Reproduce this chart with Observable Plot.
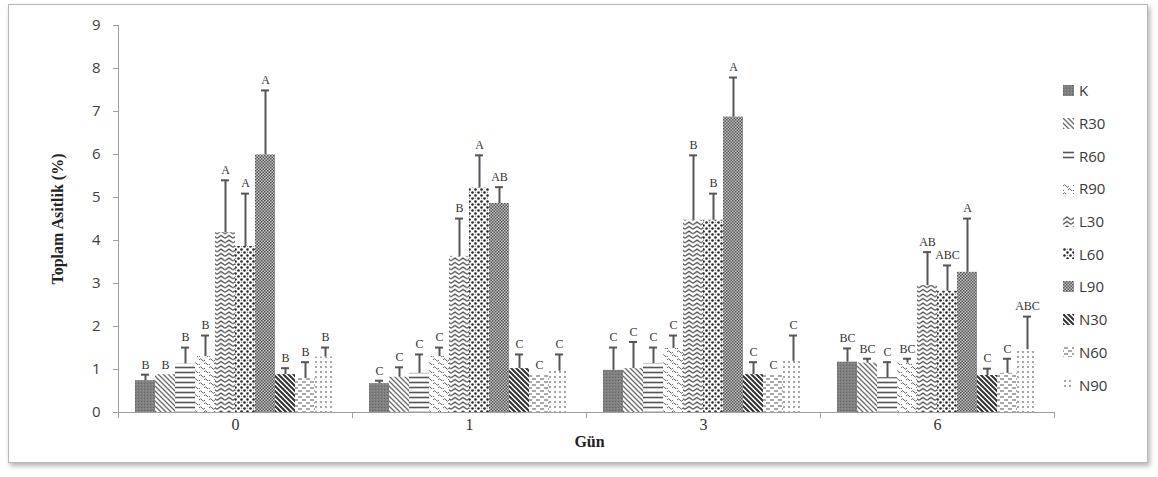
<!DOCTYPE html>
<html><head><meta charset="utf-8">
<script src="https://cdn.jsdelivr.net/npm/d3@7"></script>
<script src="https://cdn.jsdelivr.net/npm/@observablehq/plot@0.6"></script>
<style>
html,body{margin:0;padding:0;background:#fff;}
#frame{position:absolute;left:8px;top:4px;width:1138px;height:457px;border:1px solid #b8b8b8;box-shadow:2px 3px 5px rgba(0,0,0,0.3);background:#fff;overflow:hidden;}
#chart{position:absolute;left:0;top:0;}
#legend{position:absolute;left:1054px;top:69px;font-family:"Open Sans",sans-serif;font-size:15px;color:#3a3a3a;}
.item{display:flex;align-items:center;height:32.7px;}
.item svg{margin-right:5px;display:block;}
</style></head><body>
<div id="frame"><div id="chart"></div><div id="legend"></div></div>
<script>
const days = ["0", "1", "3", "6"];
const series = ["K", "R30", "R60", "R90", "L30", "L60", "L90", "N30", "N60", "N90"];
const yTicks = [0, 1, 2, 3, 4, 5, 6, 7, 8, 9];

const mean0 = [0.74, 0.88, 1.13, 1.30, 4.18, 3.86, 5.99, 0.88, 0.79, 1.29];
const mean1 = [0.67, 0.82, 0.91, 1.30, 3.63, 5.22, 4.86, 1.02, 0.86, 0.96];
const mean3 = [0.98, 1.02, 1.14, 1.49, 4.47, 4.47, 6.87, 0.88, 0.88, 1.19];
const mean6 = [1.17, 1.15, 0.81, 1.15, 2.95, 2.82, 3.26, 0.86, 0.91, 1.46];

const sd0 = [0.14, 0.00, 0.38, 0.49, 1.22, 1.23, 1.50, 0.15, 0.38, 0.22];
const sd1 = [0.07, 0.23, 0.44, 0.21, 0.88, 0.76, 0.38, 0.33, 0.00, 0.39];
const sd3 = [0.53, 0.62, 0.37, 0.30, 1.51, 0.62, 0.92, 0.29, 0.00, 0.60];
const sd6 = [0.32, 0.10, 0.36, 0.10, 0.78, 0.60, 1.25, 0.16, 0.34, 0.77];

const letters0 = ["B", "B", "B", "B", "A", "A", "A", "B", "B", "B"];
const letters1 = ["C", "C", "C", "C", "B", "A", "AB", "C", "C", "C"];
const letters3 = ["C", "C", "C", "C", "B", "B", "A", "C", "C", "C"];
const letters6 = ["BC", "BC", "C", "BC", "AB", "ABC", "A", "C", "C", "ABC"];

const means = [mean0, mean1, mean3, mean6];
const sds = [sd0, sd1, sd3, sd6];
const letters = [letters0, letters1, letters3, letters6];

const data = days.flatMap((day, i) => series.map((s, j) => ({
  day, s, mean: means[i][j], sd: sds[i][j], letter: letters[i][j]
})));
const errData = data.filter(d => d.sd > 0.02);

const patterns = `
<pattern id="pat0" patternUnits="userSpaceOnUse" width="3" height="3">
  <rect width="3" height="3" fill="#808080"/><rect width="1" height="1" fill="#666"/><rect x="2" y="1" width="1" height="1" fill="#939393"/>
</pattern>
<pattern id="pat1" patternUnits="userSpaceOnUse" width="5" height="5">
  <rect width="5" height="5" fill="#fff"/>
  <path d="M0,0L5,5M-1,4L1,6M4,-1L6,1" stroke="#6a6a6a" stroke-width="1.3"/>
</pattern>
<pattern id="pat2" patternUnits="userSpaceOnUse" width="4" height="5">
  <rect width="4" height="5" fill="#fff"/>
  <path d="M0,2.5H4" stroke="#555" stroke-width="1.6"/>
</pattern>
<pattern id="pat3" patternUnits="userSpaceOnUse" width="10" height="8">
  <rect width="10" height="8" fill="#fff"/>
  <path d="M0,3q1.5,-2.5 3,0t3,0M5,7q1.5,-2.5 3,0t3,0M-5,7q1.5,-2.5 3,0t3,0" fill="none" stroke="#666" stroke-width="1"/>
</pattern>
<pattern id="pat4" patternUnits="userSpaceOnUse" width="8" height="4.5">
  <rect width="8" height="4.5" fill="#fff"/>
  <path d="M0,3.8L4,1L8,3.8" fill="none" stroke="#444" stroke-width="1.2"/>
</pattern>
<pattern id="pat5" patternUnits="userSpaceOnUse" width="6" height="6">
  <rect width="6" height="6" fill="#fff"/>
  <circle cx="1.5" cy="1.5" r="1.3" fill="#262626"/><circle cx="4.5" cy="4.5" r="1.3" fill="#262626"/>
  <circle cx="4.5" cy="1.2" r="0.6" fill="#777"/>
</pattern>
<pattern id="pat6" patternUnits="userSpaceOnUse" width="3" height="3">
  <rect width="3" height="3" fill="#c4c4c4"/>
  <rect width="1.5" height="1.5" fill="#555"/><rect x="1.5" y="1.5" width="1.5" height="1.5" fill="#555"/>
</pattern>
<pattern id="pat7" patternUnits="userSpaceOnUse" width="5" height="5">
  <rect width="5" height="5" fill="#fff"/>
  <path d="M0,0L5,5M-1,4L1,6M4,-1L6,1" stroke="#303030" stroke-width="2"/>
</pattern>
<pattern id="pat8" patternUnits="userSpaceOnUse" width="8" height="6">
  <rect width="8" height="6" fill="#fff"/>
  <path d="M1,2H5M5,5H8M0,5H1" stroke="#555" stroke-width="1.2"/>
</pattern>
<pattern id="pat9" patternUnits="userSpaceOnUse" width="5" height="5">
  <rect width="5" height="5" fill="#fff"/>
  <circle cx="2" cy="2" r="0.9" fill="#7a7a7a"/>
</pattern>`;

const chart = Plot.plot({
  width: 1050,
  height: 452,
  marginLeft: 109,
  marginRight: 5,
  marginTop: 20,
  marginBottom: 45,
  style: {background: "transparent", overflow: "visible"},
  fx: {domain: days, padding: 0, axis: null},
  x: {domain: series, paddingInner: 0, paddingOuter: 0.8, axis: null},
  y: {domain: [0, 9], axis: null},
  color: {type: "ordinal", domain: series, range: series.map((_, i) => `url(#pat${i})`)},
  marks: [
    Plot.barY(data, {fx: "day", x: "s", y: "mean", fill: "s"}),
    Plot.ruleY([0], {stroke: "#a0a0a0"}),
    Plot.ruleX(errData, {fx: "day", x: "s", y1: "mean", y2: d => d.mean + d.sd, stroke: "#555", strokeWidth: 2}),
    Plot.tickY(errData, {fx: "day", x: "s", y: d => d.mean + d.sd, stroke: "#555", strokeWidth: 2, inset: 6}),
    Plot.text(data, {fx: "day", x: "s", y: d => d.mean + d.sd, text: "letter", dy: -10,
      fontFamily: "Liberation Serif", fontSize: 12, fill: "#333"}),
    Plot.axisY({ticks: yTicks, tickSize: 5, tickPadding: 13, label: null, fontSize: 15,
      fontFamily: "Open Sans", stroke: "#a0a0a0", fill: "#404040"}),
    Plot.axisFx({anchor: "bottom", tickSize: 0, tickPadding: 6, label: null, fontSize: 16,
      fontFamily: "Liberation Serif", fill: "#333"}),
    Plot.text(["Toplam Asitlik (%)"], {fx: () => "0", frameAnchor: "left", rotate: -90, dx: -61,
      textAnchor: "middle", lineAnchor: "middle", fontFamily: "Liberation Serif", fontWeight: "bold",
      fontSize: 16, fill: "#222"}),
    Plot.text(["Gün"], {fx: () => "1", frameAnchor: "bottom-right", dx: 3, dy: 29,
      textAnchor: "middle", lineAnchor: "middle", fontFamily: "Liberation Serif", fontWeight: "bold",
      fontSize: 16, fill: "#222"})
  ]
});

const svg = d3.select(chart);
svg.insert("defs", ":first-child").html(patterns);

// axis line and group separators from Plot's own scales
const fxS = chart.scale("fx");
const yS = chart.scale("y");
const y0 = yS.apply(0);
const bounds = days.map(d => fxS.apply(d)).concat([fxS.apply(days[days.length - 1]) + fxS.bandwidth]);
const g = svg.append("g").attr("stroke", "#a0a0a0");
g.append("line").attr("x1", bounds[0] + 0.5).attr("x2", bounds[0] + 0.5).attr("y1", yS.apply(9)).attr("y2", y0 + 6);
bounds.forEach(b => g.append("line").attr("x1", b + 0.5).attr("x2", b + 0.5).attr("y1", y0).attr("y2", y0 + 6));

document.getElementById("chart").appendChild(chart);

const legend = d3.select("#legend");
series.forEach((s, i) => {
  const item = legend.append("div").attr("class", "item");
  item.append("svg").attr("width", 11).attr("height", 11)
    .append("rect").attr("width", 11).attr("height", 11).attr("fill", `url(#pat${i})`);
  item.append("span").text(s);
});
</script>
</body></html>
